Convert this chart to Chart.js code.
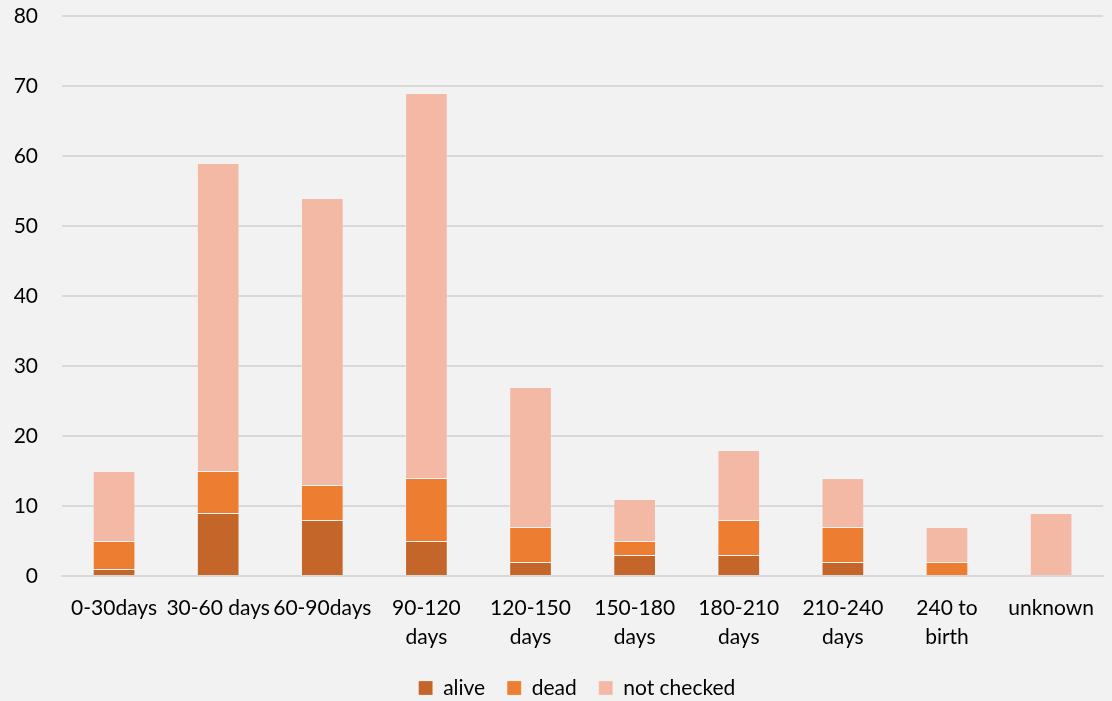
<!DOCTYPE html>
<html>
<head>
<meta charset="utf-8">
<script src="https://cdn.jsdelivr.net/npm/chart.js@4"></script>
<style>
html,body{margin:0;padding:0;background:#f2f2f2;}
#wrap{width:1112px;height:701px;}
</style>
</head>
<body>
<div id="wrap"><canvas id="c" width="1112" height="701"></canvas></div>
<script>
const categories = ["0-30days","30-60 days","60-90days","90-120 days","120-150 days","150-180 days","180-210 days","210-240 days","240 to birth","unknown"];
const tickLabels = [["0-30days"],["30-60 days"],["60-90days"],["90-120","days"],["120-150","days"],["150-180","days"],["180-210","days"],["210-240","days"],["240 to","birth"],["unknown"]];
const alive = [1,9,8,5,2,3,3,2,0,0];
const dead = [4,6,5,9,5,2,5,5,2,0];
const notChecked = [10,44,41,55,20,6,10,7,5,9];
const yTicks = [0,10,20,30,40,50,60,70,80];

const bg = {id:'bg',beforeDraw(c){const x=c.ctx;x.save();x.fillStyle='#f2f2f2';x.fillRect(0,0,c.width,c.height);x.restore();}};
const legendShift = {id:'legendShift',afterLayout(c){
  const lg=c.legend;const h=lg.bottom-lg.top;lg.top=688-22-10.5;lg.bottom=lg.top+h;
  lg.left+=21;lg.right+=21;
  c.scales.x.bottom=c.height;
}};
const FONT = 'Lato, "Open Sans", sans-serif';
new Chart(document.getElementById('c'),{
  type:'bar',
  data:{
    labels:tickLabels,
    datasets:[
      {label:'alive',data:alive,backgroundColor:'#c4652a'},
      {label:'dead',data:dead,backgroundColor:'#ed7d31'},
      {label:'not checked',data:notChecked,backgroundColor:'#f4b9a5'}
    ].map(d=>Object.assign(d,{borderColor:'rgba(255,255,255,0.18)',borderWidth:1,categoryPercentage:1,barPercentage:0.41}))
  },
  options:{
    responsive:false,animation:false,
    layout:{padding:{top:0,right:0,left:0,bottom:0}},
    plugins:{
      legend:{position:'bottom',labels:{boxWidth:14,boxHeight:14,padding:22,color:'#000',font:{family:FONT,size:21}}},
      tooltip:{enabled:false}
    },
    scales:{
      x:{stacked:true,
        grid:{display:false,drawTicks:false},
        border:{display:true,color:'#d9d9d9',width:2},
        ticks:{color:'#000',padding:18,maxRotation:0,autoSkip:false,font:{family:FONT,size:21,lineHeight:1.38}},
        afterFit(s){s.height=72;}
      },
      y:{stacked:true,min:0,max:80,
        afterBuildTicks(s){s.ticks=yTicks.map(v=>({value:v}));},
        grid:{color:'#d9d9d9',lineWidth:2,drawTicks:false},
        border:{display:false},
        ticks:{color:'#000',padding:24,font:{family:FONT,size:21}},
        afterFit(s){s.width=62;s.paddingTop=16;s.paddingBottom=0;}
      }
    }
  },
  plugins:[bg,legendShift]
});
</script>
</body>
</html>
